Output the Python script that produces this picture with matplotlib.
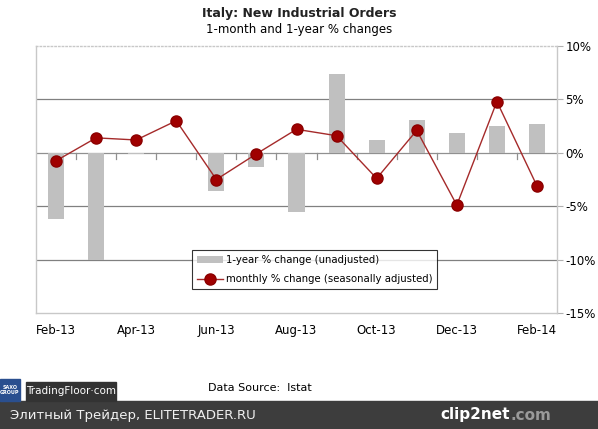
import matplotlib.pyplot as plt
from matplotlib.patches import Rectangle

# months and values
months = ["Feb-13", "Mar-13", "Apr-13", "May-13", "Jun-13", "Jul-13", "Aug-13",
          "Sep-13", "Oct-13", "Nov-13", "Dec-13", "Jan-14", "Feb-14"]
yearly = [-6.2, -10.0, -0.1, 0.0, -3.6, -1.3, -5.5, 7.4, 1.2, 3.1, 1.9, 2.5, 2.7]
monthly = [-0.75, 1.4, 1.2, 3.0, -2.5, -0.1, 2.2, 1.6, -2.4, 2.1, -4.9, 4.8, -3.1]
yticks = [10, 5, 0, -5, -10, -15]

fig = plt.figure(figsize=(5.98, 4.29), dpi=100)
W, H = 598, 429
ax = fig.add_axes([36 / W, 1 - 313 / H, (557 - 36) / W, (313 - 46) / H])

x = range(len(months))
bars = ax.bar(x, yearly, width=0.4, color="#c0c0c0", label="1-year % change (unadjusted)", zorder=2)
line, = ax.plot(x, monthly, color="#a52a2a", lw=1, marker="o", ms=8, mfc="#a00000",
                mec="#8b0000", label="monthly % change (seasonally adjusted)", zorder=3)

ax.set_xlim(-0.5, len(months) - 0.5)
ax.set_ylim(-15, 10)
for v in [5, -5, -10]:
    ax.axhline(v, color="#808080", lw=0.9, zorder=1)
ax.axhline(0, color="#909090", lw=0.9, zorder=1)
for i in range(1, len(months)):
    ax.plot([i - 0.5, i - 0.5], [0, -0.6], color="#909090", lw=0.9, zorder=1)

ax.yaxis.tick_right()
ax.set_yticks(yticks)
ax.set_yticklabels([f"{v}%" for v in yticks], fontsize=8.5)
ax.tick_params(axis="y", length=4, color="#b0b0b0", pad=2)
ax.set_xticks(list(x)[::2])
ax.set_xticklabels(months[::2], fontsize=8.5)
ax.tick_params(axis="x", length=0, pad=8)
for s in ax.spines.values():
    s.set_color("#c8c8c8")
    s.set_linewidth(1)
ax.spines["top"].set_linestyle(":")

leg = ax.legend([bars, line], [bars.get_label(), line.get_label()],
                loc="lower left", bbox_to_anchor=(156 / 521, 24 / 267), fontsize=7.3,
                frameon=True, fancybox=False, edgecolor="black", handlelength=2.6,
                handletextpad=0.3, borderpad=0.45, labelspacing=0.95, borderaxespad=0)
leg.get_frame().set_linewidth(0.8)

fig.text(0.5, 1 - 13 / H, "Italy: New Industrial Orders", ha="center", va="center",
         fontsize=9, fontweight="bold", color="#222222")
fig.text(0.5, 1 - 30 / H, "1-month and 1-year % changes", ha="center", va="center", fontsize=8.5)

# footer
fig.text(208 / W, 1 - 388 / H, "Data Source:  Istat", ha="left", va="center", fontsize=8)
fig.patches.append(Rectangle((0, 0), 1, 28 / H, transform=fig.transFigure,
                             color="#3d3d3d", zorder=0))
fig.text(10 / W, 14 / H, "Элитный Трейдер, ELITETRADER.RU", ha="left", va="center",
         fontsize=9.5, color="#f0f0f0")
fig.text(510 / W, 14 / H, "clip2net", ha="right", va="center", fontsize=11,
         color="white", fontweight="bold")
fig.text(510 / W, 14 / H, ".com", ha="left", va="center", fontsize=11,
         color="#9a9a9a", fontweight="bold")
fig.patches.append(Rectangle((0, 28 / H), 20 / W, 22 / H, transform=fig.transFigure,
                             color="#2a4f8f", zorder=1))
fig.text(10 / W, 39 / H, "SAXO\nGROUP", ha="center", va="center", fontsize=3.5,
         color="white", fontweight="bold")
fig.patches.append(Rectangle((26 / W, 28 / H), 90 / W, 19 / H, transform=fig.transFigure,
                             color="#333333", zorder=1))
fig.text(71 / W, 37.5 / H, "TradingFloor·com", ha="center", va="center", fontsize=7.5,
         color="white")

fig.savefig("out.png", dpi=100)
